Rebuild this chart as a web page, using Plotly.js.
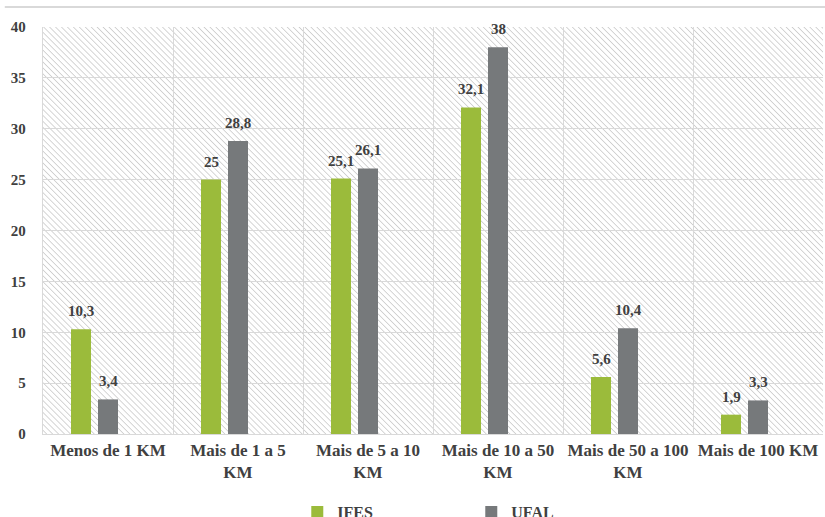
<!DOCTYPE html>
<html>
<head>
<meta charset="utf-8">
<script src="https://cdn.plot.ly/plotly-3.0.1.min.js"></script>
</head>
<body style="margin:0">
<div id="chart"></div>
<script>
// ---- data ----
const categories = ['Menos de 1 KM', 'Mais de 1 a 5<br>KM', 'Mais de 5 a 10<br>KM', 'Mais de 10 a 50<br>KM', 'Mais de 50 a 100<br>KM', 'Mais de 100 KM'];
const seriesNames = ['IFES', 'UFAL'];
const ifesValues = [10.3, 25, 25.1, 32.1, 5.6, 1.9];
const ufalValues = [3.4, 28.8, 26.1, 38, 10.4, 3.3];
const yTickValues = [0, 5, 10, 15, 20, 25, 30, 35, 40];

// ---- styles ----
const GREEN = '#9bbb3b';
const GRAY = '#76797b';
const TEXT = '#404040';
const GRID = '#d9d9d9';
const FONT = 'Liberation Serif';

const fmt = v => String(v).replace('.', ',');

const traces = [
  { type: 'bar', name: '<b>' + seriesNames[0] + '</b>', x: categories, y: ifesValues, marker: { color: GREEN }, hoverinfo: 'none' },
  { type: 'bar', name: '<b>' + seriesNames[1] + '</b>', x: categories, y: ufalValues, marker: { color: GRAY }, hoverinfo: 'none' },
  { type: 'bar', name: '', x: categories, y: categories.map(() => null), showlegend: false, hoverinfo: 'none' }
];

// slot offset of each series within a category (category width = 1)
const slot = (1 - 0.377) / 3;
const annotations = [];
[ifesValues, ufalValues].forEach((vals, s) => {
  vals.forEach((v, i) => {
    annotations.push({
      x: i + (s - 1) * slot, y: v, xref: 'x', yref: 'y',
      text: '<b>' + fmt(v) + '</b>', showarrow: false,
      yanchor: 'middle', yshift: 18,
      font: { family: FONT, size: 15, color: TEXT }
    });
  });
});

// hatched background image for the plot area
const hatch = 'data:image/svg+xml;utf8,' + encodeURIComponent(
  '<svg xmlns="http://www.w3.org/2000/svg" width="780" height="407">' +
  '<defs><pattern id="p" width="4.2" height="4.2" patternUnits="userSpaceOnUse" patternTransform="rotate(-45)">' +
  '<line x1="0" y1="0" x2="0" y2="4.2" stroke="#c4c4c4" stroke-width="1.4"/></pattern></defs>' +
  '<rect width="780" height="407" fill="url(#p)"/></svg>');

const layout = {
  width: 825, height: 517,
  margin: { l: 43, r: 2, t: 27, b: 83, pad: 0, autoexpand: false },
  paper_bgcolor: '#ffffff',
  plot_bgcolor: 'rgba(0,0,0,0)',
  barmode: 'group',
  bargap: 0.377,
  bargroupgap: 0.259,
  images: [{
    source: hatch, xref: 'paper', yref: 'paper', x: 0, y: 1, sizex: 1, sizey: 1,
    xanchor: 'left', yanchor: 'top', sizing: 'stretch', layer: 'below'
  }],
  xaxis: {
    type: 'category',
    tickson: 'boundaries',
    tickvals: categories,
    ticktext: categories.map(c => '<b>' + c.replace('<br>', '</b><br><b>') + '</b>'),
    tickangle: 0,
    showgrid: true, gridcolor: GRID, gridwidth: 1.3,
    showline: true, linecolor: GRID, linewidth: 1.3,
    ticks: 'outside', ticklen: 17, tickcolor: 'rgba(0,0,0,0)',
    tickfont: { family: FONT, size: 17, color: TEXT },
    automargin: false,
    fixedrange: true
  },
  yaxis: {
    range: [0, 40],
    tickvals: yTickValues,
    ticktext: yTickValues.map(v => '<b>' + v + '</b>'),
    showgrid: true, gridcolor: GRID, gridwidth: 1.3,
    zeroline: false,
    showline: true, linecolor: GRID, linewidth: 1.3,
    ticks: 'outside', ticklen: 13, tickcolor: 'rgba(0,0,0,0)',
    tickfont: { family: FONT, size: 15, color: TEXT },
    automargin: false,
    fixedrange: true
  },
  showlegend: true,
  legend: {
    orientation: 'h',
    x: 0.326, xanchor: 'left',
    y: -0.15, yanchor: 'top',
    entrywidth: 129, entrywidthmode: 'pixels',
    itemwidth: 30,
    font: { family: FONT, size: 16, color: TEXT },
    bgcolor: 'rgba(0,0,0,0)'
  },
  shapes: [{
    type: 'line', xref: 'paper', yref: 'paper',
    x0: -0.049, x1: 1.01, y0: 1.049, y1: 1.049,
    line: { color: GRID, width: 2 }
  }],
  annotations: annotations
};

Plotly.newPlot('chart', traces, layout, { displayModeBar: false });
</script>
</body>
</html>
